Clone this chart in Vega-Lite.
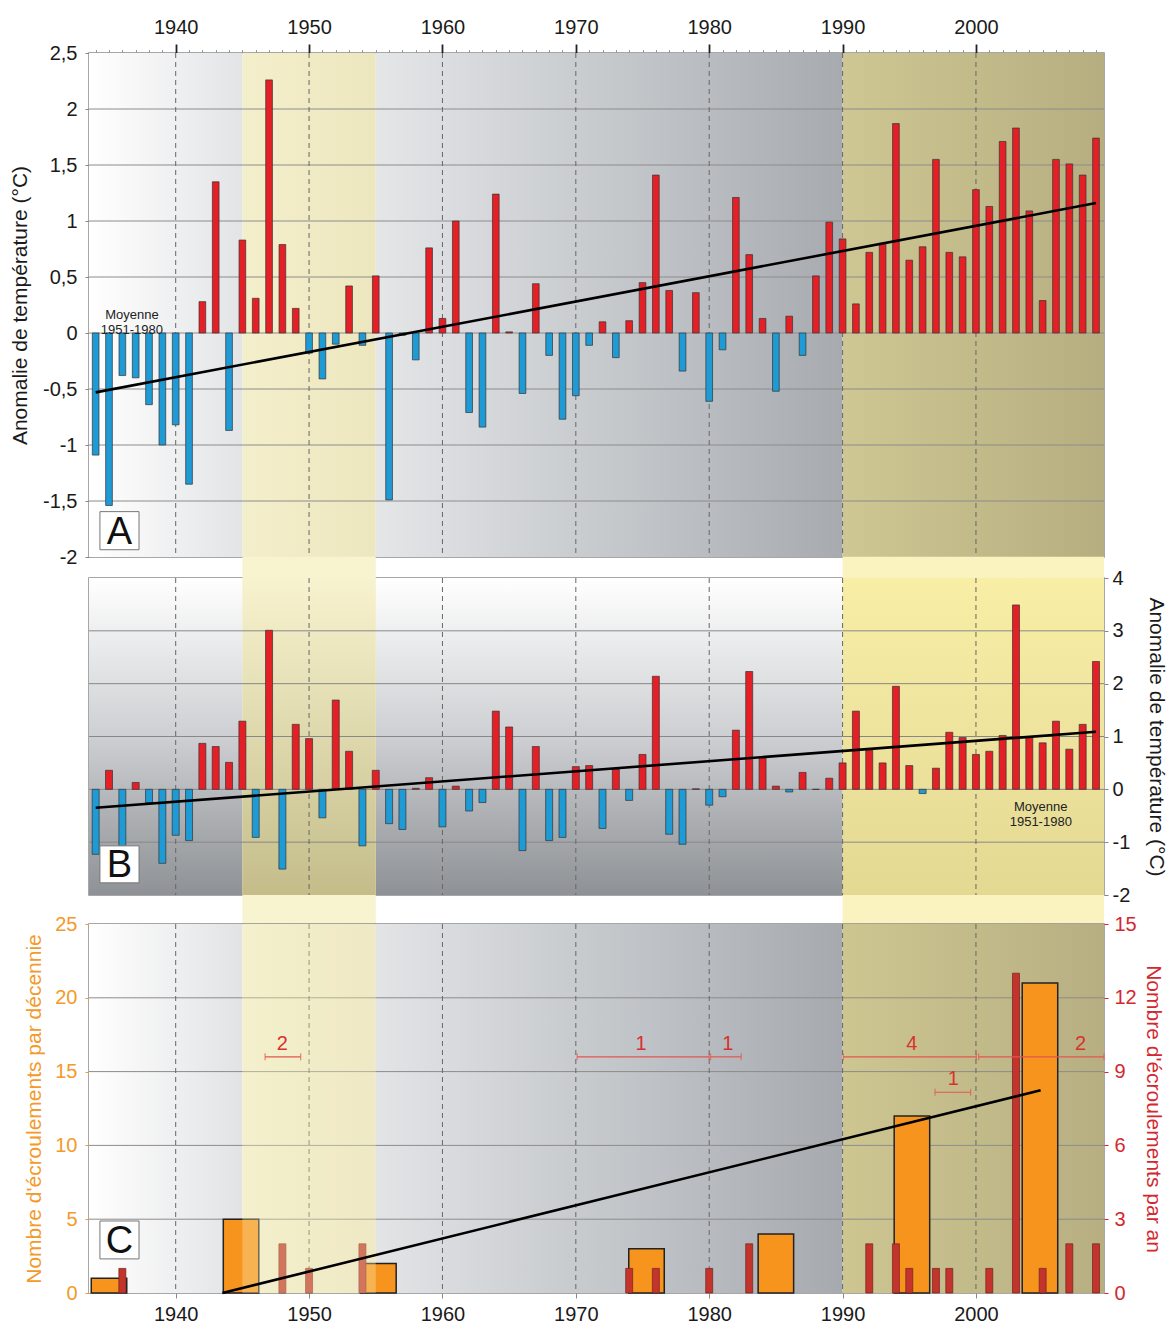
{
  "$schema": "https://vega.github.io/schema/vega-lite/v6.json",
  "background": "white",
  "padding": {"left": 8, "top": 16, "right": 0, "bottom": 0},
  "autosize": {"type": "pad"},
  "config": {
    "font": "Liberation Sans",
    "scale": {"continuousPadding": 0},
    "view": {"stroke": "#8a8a8a", "strokeWidth": 1.5},
    "axis": {"grid": false, "domain": false, "labelFont": "Liberation Sans", "titleFont": "Liberation Sans", "labelFontSize": 20, "titleFontSize": 21, "titleFontWeight": "normal", "labelColor": "#1a1a1a", "titleColor": "#1a1a1a", "tickColor": "#888888", "labelOverlap": false, "labelFlush": false}
  },
  "datasets": {
    "tA": [
      {"year":1934,"v":-1.09},{"year":1935,"v":-1.54},{"year":1936,"v":-0.38},{"year":1937,"v":-0.40},{"year":1938,"v":-0.64},{"year":1939,"v":-1.00},{"year":1940,"v":-0.82},{"year":1941,"v":-1.35},{"year":1942,"v":0.28},{"year":1943,"v":1.35},
      {"year":1944,"v":-0.87},{"year":1945,"v":0.83},{"year":1946,"v":0.31},{"year":1947,"v":2.26},{"year":1948,"v":0.79},{"year":1949,"v":0.22},{"year":1950,"v":-0.18},{"year":1951,"v":-0.41},{"year":1952,"v":-0.10},{"year":1953,"v":0.42},
      {"year":1954,"v":-0.11},{"year":1955,"v":0.51},{"year":1956,"v":-1.49},{"year":1957,"v":-0.02},{"year":1958,"v":-0.24},{"year":1959,"v":0.76},{"year":1960,"v":0.13},{"year":1961,"v":1.00},{"year":1962,"v":-0.71},{"year":1963,"v":-0.84},
      {"year":1964,"v":1.24},{"year":1965,"v":0.01},{"year":1966,"v":-0.54},{"year":1967,"v":0.44},{"year":1968,"v":-0.20},{"year":1969,"v":-0.77},{"year":1970,"v":-0.56},{"year":1971,"v":-0.11},{"year":1972,"v":0.10},{"year":1973,"v":-0.22},
      {"year":1974,"v":0.11},{"year":1975,"v":0.45},{"year":1976,"v":1.41},{"year":1977,"v":0.38},{"year":1978,"v":-0.34},{"year":1979,"v":0.36},{"year":1980,"v":-0.61},{"year":1981,"v":-0.15},{"year":1982,"v":1.21},{"year":1983,"v":0.70},
      {"year":1984,"v":0.13},{"year":1985,"v":-0.52},{"year":1986,"v":0.15},{"year":1987,"v":-0.20},{"year":1988,"v":0.51},{"year":1989,"v":0.99},{"year":1990,"v":0.84},{"year":1991,"v":0.26},{"year":1992,"v":0.72},{"year":1993,"v":0.80},
      {"year":1994,"v":1.87},{"year":1995,"v":0.65},{"year":1996,"v":0.77},{"year":1997,"v":1.55},{"year":1998,"v":0.72},{"year":1999,"v":0.68},{"year":2000,"v":1.28},{"year":2001,"v":1.13},{"year":2002,"v":1.71},{"year":2003,"v":1.83},
      {"year":2004,"v":1.09},{"year":2005,"v":0.29},{"year":2006,"v":1.55},{"year":2007,"v":1.51},{"year":2008,"v":1.41},{"year":2009,"v":1.74}
    ],
    "tB": [
      {"year":1934,"v":-1.23},{"year":1935,"v":0.36},{"year":1936,"v":-1.07},{"year":1937,"v":0.13},{"year":1938,"v":-0.25},{"year":1939,"v":-1.40},{"year":1940,"v":-0.87},{"year":1941,"v":-0.97},{"year":1942,"v":0.87},{"year":1943,"v":0.81},
      {"year":1944,"v":0.51},{"year":1945,"v":1.29},{"year":1946,"v":-0.91},{"year":1947,"v":3.01},{"year":1948,"v":-1.51},{"year":1949,"v":1.23},{"year":1950,"v":0.96},{"year":1951,"v":-0.54},{"year":1952,"v":1.69},{"year":1953,"v":0.72},
      {"year":1954,"v":-1.07},{"year":1955,"v":0.36},{"year":1956,"v":-0.65},{"year":1957,"v":-0.76},{"year":1958,"v":0.02},{"year":1959,"v":0.22},{"year":1960,"v":-0.71},{"year":1961,"v":0.06},{"year":1962,"v":-0.41},{"year":1963,"v":-0.25},
      {"year":1964,"v":1.48},{"year":1965,"v":1.18},{"year":1966,"v":-1.16},{"year":1967,"v":0.81},{"year":1968,"v":-0.97},{"year":1969,"v":-0.91},{"year":1970,"v":0.43},{"year":1971,"v":0.45},{"year":1972,"v":-0.74},{"year":1973,"v":0.38},
      {"year":1974,"v":-0.21},{"year":1975,"v":0.66},{"year":1976,"v":2.14},{"year":1977,"v":-0.85},{"year":1978,"v":-1.04},{"year":1979,"v":0.01},{"year":1980,"v":-0.30},{"year":1981,"v":-0.14},{"year":1982,"v":1.12},{"year":1983,"v":2.23},
      {"year":1984,"v":0.60},{"year":1985,"v":0.06},{"year":1986,"v":-0.05},{"year":1987,"v":0.32},{"year":1988,"v":0.00},{"year":1989,"v":0.21},{"year":1990,"v":0.50},{"year":1991,"v":1.48},{"year":1992,"v":0.74},{"year":1993,"v":0.50},
      {"year":1994,"v":1.95},{"year":1995,"v":0.45},{"year":1996,"v":-0.08},{"year":1997,"v":0.40},{"year":1998,"v":1.08},{"year":1999,"v":0.98},{"year":2000,"v":0.66},{"year":2001,"v":0.72},{"year":2002,"v":1.02},{"year":2003,"v":3.49},
      {"year":2004,"v":0.98},{"year":2005,"v":0.88},{"year":2006,"v":1.29},{"year":2007,"v":0.76},{"year":2008,"v":1.23},{"year":2009,"v":2.42}
    ],
    "dec": [
      {"year":1935.0,"n":1},{"year":1944.9,"n":5},{"year":1955.2,"n":2},{"year":1975.3,"n":3},{"year":1985.0,"n":4},{"year":1995.2,"n":12},{"year":2004.8,"n":21}
    ],
    "ann": [
      {"year":1936,"n":1},{"year":1948,"n":2},{"year":1950,"n":1},{"year":1954,"n":2},{"year":1974,"n":1},{"year":1976,"n":1},{"year":1980,"n":1},{"year":1983,"n":2},{"year":1992,"n":2},
      {"year":1994,"n":2},{"year":1995,"n":1},{"year":1997,"n":1},{"year":1998,"n":1},{"year":2001,"n":1},{"year":2003,"n":13},{"year":2005,"n":1},{"year":2007,"n":2},{"year":2009,"n":2}
    ],
    "trA": [{"year":1934,"v":-0.53},{"year":2009,"v":1.16}],
    "trB": [{"year":1934,"v":-0.35},{"year":2009,"v":1.09}],
    "trC": [{"year":1943.5,"n":0},{"year":2004.85,"n":13.74}],
    "bg": [
      {"seg":"s1","x0":1933.5,"x1":1945},
      {"seg":"s2","x0":1945,"x1":1955},
      {"seg":"s3","x0":1955,"x1":1990},
      {"seg":"s4","x0":1990,"x1":2009.6}
    ],
    "decades": [{"d":1940},{"d":1950},{"d":1960},{"d":1970},{"d":1980},{"d":1990},{"d":2000}],
    "gA": [{"g":-1.5},{"g":-1},{"g":-0.5},{"g":0},{"g":0.5},{"g":1},{"g":1.5},{"g":2}],
    "gB": [{"g":-1},{"g":0},{"g":1},{"g":2},{"g":3}],
    "gC": [{"g":5},{"g":10},{"g":15},{"g":20}],
    "spans": [
      {"x0":1946.7,"x1":1949.37,"y":16,"label":"2","lx":1948.0},
      {"x0":1970.1,"x1":1980.0,"y":16,"label":"1","lx":1974.9},
      {"x0":1980.1,"x1":1982.4,"y":16,"label":"1","lx":1981.4},
      {"x0":1990.06,"x1":2000.03,"y":16,"label":"4","lx":1995.2},
      {"x0":2000.2,"x1":2009.6,"y":16,"label":"2","lx":2007.85},
      {"x0":1996.93,"x1":1999.6,"y":13.6,"label":"1","lx":1998.3}
    ],
    "noteA": [{"year":1936.72,"v":0.16,"t":"Moyenne\n1951-1980"}],
    "noteB": [{"year":2004.86,"v":-0.33,"t":"Moyenne\n1951-1980"}],
    "boxA": [{"x0":1934.32,"x1":1937.25,"y0":-1.935,"y1":-1.595,"xc":1935.78,"yc":-1.765,"t":"A"}],
    "boxB": [{"x0":1934.32,"x1":1937.25,"y0":-1.77,"y1":-1.07,"xc":1935.78,"yc":-1.42,"t":"B"}],
    "boxC": [{"x0":1934.32,"x1":1937.25,"y0":2.31,"y1":4.88,"xc":1935.78,"yc":3.6,"t":"C"}]
  },
  "spacing": 21,
  "bounds": "flush",
  "vconcat": [
    {
      "width": 1015,
      "height": 504,
      "resolve": {"axis": {"x": "independent", "y": "independent"}},
      "layer": [
        {"data":{"name":"bg"},"transform":[{"filter":"datum.seg==='s1'"}],
         "mark":{"type":"rect","fill":{"gradient":"linear","x1":0,"y1":0,"x2":1,"y2":0,"stops":[{"offset":0,"color":"#ffffff"},{"offset":1,"color":"#e3e4e6"}]}},
         "encoding":{"x":{"field":"x0","type":"quantitative","scale":{"domain":[1933.5,2009.6],"nice":false,"zero":false,"padding":0},"axis":null},"x2":{"field":"x1"}}},
        {"data":{"name":"bg"},"transform":[{"filter":"datum.seg==='s2'"}],
         "mark":{"type":"rect","fill":{"gradient":"linear","x1":0,"y1":0,"x2":1,"y2":0,"stops":[{"offset":0,"color":"#f4efcb"},{"offset":1,"color":"#ede7bf"}]}},
         "encoding":{"x":{"field":"x0","type":"quantitative","scale":{"domain":[1933.5,2009.6],"nice":false,"zero":false,"padding":0},"axis":null},"x2":{"field":"x1"}}},
        {"data":{"name":"bg"},"transform":[{"filter":"datum.seg==='s3'"}],
         "mark":{"type":"rect","fill":{"gradient":"linear","x1":0,"y1":0,"x2":1,"y2":0,"stops":[{"offset":0,"color":"#e4e6e8"},{"offset":1,"color":"#a7abb0"}]}},
         "encoding":{"x":{"field":"x0","type":"quantitative","scale":{"domain":[1933.5,2009.6],"nice":false,"zero":false,"padding":0},"axis":null},"x2":{"field":"x1"}}},
        {"data":{"name":"bg"},"transform":[{"filter":"datum.seg==='s4'"}],
         "mark":{"type":"rect","fill":{"gradient":"linear","x1":0,"y1":0,"x2":1,"y2":0,"stops":[{"offset":0,"color":"#cec793"},{"offset":1,"color":"#b6ae80"}]}},
         "encoding":{"x":{"field":"x0","type":"quantitative","scale":{"domain":[1933.5,2009.6],"nice":false,"zero":false,"padding":0},"axis":null},"x2":{"field":"x1"}}},
        {"data":{"name":"gA"},"mark":{"type":"rule","color":"#8c8c8c","strokeWidth":1},
         "encoding":{"y":{"field":"g","type":"quantitative","scale":{"domain":[-2,2.5],"nice":false,"zero":false,"padding":0},"axis":null}}},
        {"data":{"name":"decades"},"mark":{"type":"rule","color":"#666666","strokeDash":[5,4],"strokeWidth":1},
         "encoding":{"x":{"field":"d","type":"quantitative","scale":{"domain":[1933.5,2009.6],"nice":false,"zero":false,"padding":0},"axis":null}}},
        {"data":{"name":"tA"},"mark":{"type":"bar","size":6.7,"stroke":"#333333","strokeWidth":0.7},
         "encoding":{
           "x":{"field":"year","type":"quantitative","scale":{"domain":[1933.5,2009.6],"nice":false,"zero":false,"padding":0},
                "axis":{"orient":"top","title":null,"format":"d","values":[1934,1935,1936,1937,1938,1939,1940,1941,1942,1943,1944,1945,1946,1947,1948,1949,1950,1951,1952,1953,1954,1955,1956,1957,1958,1959,1960,1961,1962,1963,1964,1965,1966,1967,1968,1969,1970,1971,1972,1973,1974,1975,1976,1977,1978,1979,1980,1981,1982,1983,1984,1985,1986,1987,1988,1989,1990,1991,1992,1993,1994,1995,1996,1997,1998,1999,2000,2001,2002,2003,2004,2005,2006,2007,2008,2009],
                        "labelExpr":"datum.value % 10 === 0 ? datum.label : ''",
                        "tickSize":{"condition":{"test":"datum.value % 10 === 0","value":9},"value":3.5},
                        "tickColor":{"condition":{"test":"datum.value % 10 === 0","value":"#222222"},"value":"#999999"},
                        "tickWidth":{"condition":{"test":"datum.value % 10 === 0","value":1.8},"value":1},
                        "labelPadding":7}},
           "y":{"field":"v","type":"quantitative","scale":{"domain":[-2,2.5],"nice":false,"zero":false,"padding":0},
                "axis":{"orient":"left","values":[-2,-1.5,-1,-0.5,0,0.5,1,1.5,2,2.5],"format":"~g","labelExpr":"replace(replace(datum.label, '.', ','), '\u2212', '-')","tickSize":4,"labelPadding":8,"title":"Anomalie de température (°C)","titlePadding":12}},
           "y2":{"datum":0},
           "color":{"condition":{"test":"datum.v >= 0","value":"#e41f26"},"value":"#1e9ad5"}}},
        {"data":{"name":"trA"},"mark":{"type":"line","color":"#000000","strokeWidth":2.6},
         "encoding":{"x":{"field":"year","type":"quantitative","scale":{"domain":[1933.5,2009.6],"nice":false,"zero":false,"padding":0},"axis":null},
                     "y":{"field":"v","type":"quantitative","scale":{"domain":[-2,2.5],"nice":false,"zero":false,"padding":0},"axis":null}}},
        {"data":{"name":"noteA"},"mark":{"type":"text","fontSize":13,"color":"#222222","lineBreak":"\n","lineHeight":15,"align":"center","baseline":"middle"},
         "encoding":{"x":{"field":"year","type":"quantitative","scale":{"domain":[1933.5,2009.6],"nice":false,"zero":false,"padding":0},"axis":null},
                     "y":{"field":"v","type":"quantitative","scale":{"domain":[-2,2.5],"nice":false,"zero":false,"padding":0},"axis":null},
                     "text":{"field":"t"}}},
        {"data":{"name":"boxA"},"mark":{"type":"rect","fill":"#ffffff","stroke":"#777777","strokeWidth":1},
         "encoding":{"x":{"field":"x0","type":"quantitative","scale":{"domain":[1933.5,2009.6],"nice":false,"zero":false,"padding":0},"axis":null},"x2":{"field":"x1"},
                     "y":{"field":"y0","type":"quantitative","scale":{"domain":[-2,2.5],"nice":false,"zero":false,"padding":0},"axis":null},"y2":{"field":"y1"}}},
        {"data":{"name":"boxA"},"mark":{"type":"text","fontSize":38,"color":"#111111","align":"center","baseline":"middle","dy":2},
         "encoding":{"x":{"field":"xc","type":"quantitative","scale":{"domain":[1933.5,2009.6],"nice":false,"zero":false,"padding":0},"axis":null},
                     "y":{"field":"yc","type":"quantitative","scale":{"domain":[-2,2.5],"nice":false,"zero":false,"padding":0},"axis":null},
                     "text":{"field":"t"}}}
      ]
    },
    {
      "spacing": 29,
      "bounds": "flush",
      "vconcat": [
        {
          "width": 1015,
          "height": 317,
          "resolve": {"axis": {"x": "independent", "y": "independent"}},
          "layer": [
            {"data":{"name":"bg"},"transform":[{"filter":"datum.seg==='s2'"}],
             "mark":{"type":"rect","fill":"#f8f4d0"},
             "encoding":{"x":{"field":"x0","type":"quantitative","scale":{"domain":[1933.5,2009.6],"nice":false,"zero":false,"padding":0},"axis":null},"x2":{"field":"x1"},
                         "y":{"datum":-2.55,"type":"quantitative","scale":{"domain":[-2,4],"nice":false,"zero":false,"padding":0},"axis":null},"y2":{"datum":4.4}}},
            {"data":{"name":"bg"},"transform":[{"filter":"datum.seg==='s4'"}],
             "mark":{"type":"rect","fill":"#fbf3bf"},
             "encoding":{"x":{"field":"x0","type":"quantitative","scale":{"domain":[1933.5,2009.6],"nice":false,"zero":false,"padding":0},"axis":null},"x2":{"field":"x1"},
                         "y":{"datum":-2.55,"type":"quantitative","scale":{"domain":[-2,4],"nice":false,"zero":false,"padding":0},"axis":null},"y2":{"datum":4.4}}},
            {"data":{"name":"bg"},"transform":[{"filter":"datum.seg==='s1' || datum.seg==='s3'"}],
             "mark":{"type":"rect","fill":{"gradient":"linear","x1":0,"y1":0,"x2":0,"y2":1,"stops":[{"offset":0,"color":"#ffffff"},{"offset":0.5,"color":"#cdcfd2"},{"offset":1,"color":"#8e9195"}]}},
             "encoding":{"x":{"field":"x0","type":"quantitative","scale":{"domain":[1933.5,2009.6],"nice":false,"zero":false,"padding":0},"axis":null},"x2":{"field":"x1"}}},
            {"data":{"name":"bg"},"transform":[{"filter":"datum.seg==='s2'"}],
             "mark":{"type":"rect","fill":{"gradient":"linear","x1":0,"y1":0,"x2":0,"y2":1,"stops":[{"offset":0,"color":"#f8f3cf"},{"offset":1,"color":"#c4bd8a"}]}},
             "encoding":{"x":{"field":"x0","type":"quantitative","scale":{"domain":[1933.5,2009.6],"nice":false,"zero":false,"padding":0},"axis":null},"x2":{"field":"x1"}}},
            {"data":{"name":"bg"},"transform":[{"filter":"datum.seg==='s4'"}],
             "mark":{"type":"rect","fill":{"gradient":"linear","x1":0,"y1":0,"x2":0,"y2":1,"stops":[{"offset":0,"color":"#f8eea6"},{"offset":1,"color":"#e4d993"}]}},
             "encoding":{"x":{"field":"x0","type":"quantitative","scale":{"domain":[1933.5,2009.6],"nice":false,"zero":false,"padding":0},"axis":null},"x2":{"field":"x1"}}},
            {"data":{"name":"gB"},"mark":{"type":"rule","color":"#888888","strokeWidth":1},
             "encoding":{"y":{"field":"g","type":"quantitative","scale":{"domain":[-2,4],"nice":false,"zero":false,"padding":0},"axis":null}}},
            {"data":{"name":"decades"},"mark":{"type":"rule","color":"#666666","strokeDash":[5,4],"strokeWidth":1},
             "encoding":{"x":{"field":"d","type":"quantitative","scale":{"domain":[1933.5,2009.6],"nice":false,"zero":false,"padding":0},"axis":null}}},
            {"data":{"name":"tB"},"mark":{"type":"bar","size":7,"stroke":"#333333","strokeWidth":0.7},
             "encoding":{
               "x":{"field":"year","type":"quantitative","scale":{"domain":[1933.5,2009.6],"nice":false,"zero":false,"padding":0},"axis":null},
               "y":{"field":"v","type":"quantitative","scale":{"domain":[-2,4],"nice":false,"zero":false,"padding":0},
                    "axis":{"orient":"right","values":[-2,-1,0,1,2,3,4],"format":"d","labelExpr":"replace(datum.label, '\u2212', '-')","tickSize":4,"labelPadding":4,"title":"Anomalie de température (°C)","titlePadding":16}},
               "y2":{"datum":0},
               "color":{"condition":{"test":"datum.v >= 0","value":"#e41f26"},"value":"#1e9ad5"}}},
            {"data":{"name":"trB"},"mark":{"type":"line","color":"#000000","strokeWidth":2.6},
             "encoding":{"x":{"field":"year","type":"quantitative","scale":{"domain":[1933.5,2009.6],"nice":false,"zero":false,"padding":0},"axis":null},
                         "y":{"field":"v","type":"quantitative","scale":{"domain":[-2,4],"nice":false,"zero":false,"padding":0},"axis":null}}},
            {"data":{"name":"noteB"},"mark":{"type":"text","fontSize":13,"color":"#222222","lineBreak":"\n","lineHeight":15,"align":"center","baseline":"middle"},
             "encoding":{"x":{"field":"year","type":"quantitative","scale":{"domain":[1933.5,2009.6],"nice":false,"zero":false,"padding":0},"axis":null},
                         "y":{"field":"v","type":"quantitative","scale":{"domain":[-2,4],"nice":false,"zero":false,"padding":0},"axis":null},
                         "text":{"field":"t"}}},
            {"data":{"name":"boxB"},"mark":{"type":"rect","fill":"#ffffff","stroke":"#777777","strokeWidth":1},
             "encoding":{"x":{"field":"x0","type":"quantitative","scale":{"domain":[1933.5,2009.6],"nice":false,"zero":false,"padding":0},"axis":null},"x2":{"field":"x1"},
                         "y":{"field":"y0","type":"quantitative","scale":{"domain":[-2,4],"nice":false,"zero":false,"padding":0},"axis":null},"y2":{"field":"y1"}}},
            {"data":{"name":"boxB"},"mark":{"type":"text","fontSize":38,"color":"#111111","align":"center","baseline":"middle","dy":2},
             "encoding":{"x":{"field":"xc","type":"quantitative","scale":{"domain":[1933.5,2009.6],"nice":false,"zero":false,"padding":0},"axis":null},
                         "y":{"field":"yc","type":"quantitative","scale":{"domain":[-2,4],"nice":false,"zero":false,"padding":0},"axis":null},
                         "text":{"field":"t"}}}
          ]
        },
        {
          "width": 1015,
          "height": 369,
          "resolve": {"scale": {"y": "independent"}, "axis": {"x": "independent", "y": "independent"}},
          "layer": [
            {
              "resolve": {"axis": {"x": "independent", "y": "independent"}},
              "layer": [
                {"data":{"name":"bg"},"transform":[{"filter":"datum.seg==='s1'"}],
                 "mark":{"type":"rect","fill":{"gradient":"linear","x1":0,"y1":0,"x2":1,"y2":0,"stops":[{"offset":0,"color":"#ffffff"},{"offset":1,"color":"#e2e3e5"}]}},
                 "encoding":{"x":{"field":"x0","type":"quantitative","scale":{"domain":[1933.5,2009.6],"nice":false,"zero":false,"padding":0},"axis":null},"x2":{"field":"x1"}}},
                {"data":{"name":"bg"},"transform":[{"filter":"datum.seg==='s2'"}],
                 "mark":{"type":"rect","fill":{"gradient":"linear","x1":0,"y1":0,"x2":1,"y2":0,"stops":[{"offset":0,"color":"#f4f1d8"},{"offset":1,"color":"#ebe7cc"}]}},
                 "encoding":{"x":{"field":"x0","type":"quantitative","scale":{"domain":[1933.5,2009.6],"nice":false,"zero":false,"padding":0},"axis":null},"x2":{"field":"x1"}}},
                {"data":{"name":"bg"},"transform":[{"filter":"datum.seg==='s3'"}],
                 "mark":{"type":"rect","fill":{"gradient":"linear","x1":0,"y1":0,"x2":1,"y2":0,"stops":[{"offset":0,"color":"#e2e4e6"},{"offset":1,"color":"#a6aaaf"}]}},
                 "encoding":{"x":{"field":"x0","type":"quantitative","scale":{"domain":[1933.5,2009.6],"nice":false,"zero":false,"padding":0},"axis":null},"x2":{"field":"x1"}}},
                {"data":{"name":"bg"},"transform":[{"filter":"datum.seg==='s4'"}],
                 "mark":{"type":"rect","fill":{"gradient":"linear","x1":0,"y1":0,"x2":1,"y2":0,"stops":[{"offset":0,"color":"#cdc691"},{"offset":1,"color":"#b7af82"}]}},
                 "encoding":{"x":{"field":"x0","type":"quantitative","scale":{"domain":[1933.5,2009.6],"nice":false,"zero":false,"padding":0},"axis":null},"x2":{"field":"x1"}}},
                {"data":{"name":"gC"},"mark":{"type":"rule","color":"#8c8c8c","strokeWidth":1},
                 "encoding":{"y":{"field":"g","type":"quantitative","scale":{"domain":[0,25],"nice":false,"zero":false,"padding":0},"axis":null}}},
                {"data":{"name":"decades"},"mark":{"type":"rule","color":"#666666","strokeDash":[5,4],"strokeWidth":1},
                 "encoding":{"x":{"field":"d","type":"quantitative","scale":{"domain":[1933.5,2009.6],"nice":false,"zero":false,"padding":0},"axis":null}}},
                {"data":{"name":"dec"},"mark":{"type":"bar","size":35.5,"color":"#f7941d","stroke":"#222222","strokeWidth":1.5},
                 "encoding":{
                   "x":{"field":"year","type":"quantitative","scale":{"domain":[1933.5,2009.6],"nice":false,"zero":false,"padding":0},
                        "axis":{"orient":"bottom","title":null,"format":"d","values":[1940,1950,1960,1970,1980,1990,2000],"tickSize":5,"labelPadding":6}},
                   "y":{"field":"n","type":"quantitative","scale":{"domain":[0,25],"nice":false,"zero":false,"padding":0},
                        "axis":{"orient":"left","values":[0,5,10,15,20,25],"tickSize":4,"labelPadding":8,"labelColor":"#f39a2b","titleColor":"#f39a2b","tickColor":"#f39a2b","title":"Nombre d'écroulements par décennie","titlePadding":10}},
                   "y2":{"datum":0}}}
              ]
            },
            {"data":{"name":"ann"},"mark":{"type":"bar","size":7,"color":"#c4342c","stroke":"#6e2420","strokeWidth":0.7},
             "encoding":{
               "x":{"field":"year","type":"quantitative","scale":{"domain":[1933.5,2009.6],"nice":false,"zero":false,"padding":0},"axis":null},
               "y":{"field":"n","type":"quantitative","scale":{"domain":[0,15],"nice":false,"zero":false,"padding":0},
                    "axis":{"orient":"right","values":[0,3,6,9,12,15],"tickSize":4,"labelPadding":6,"labelColor":"#d3282e","titleColor":"#d3282e","tickColor":"#d3282e","title":"Nombre d'écroulements par an","titlePadding":6}},
               "y2":{"datum":0}}},
            {
              "resolve": {"axis": {"x": "independent", "y": "independent"}},
              "layer": [
                {"data":{"name":"bg"},"transform":[{"filter":"datum.seg==='s2'"}],
                 "mark":{"type":"rect","fill":"#f6efb6","opacity":0.35},
                 "encoding":{"x":{"field":"x0","type":"quantitative","scale":{"domain":[1933.5,2009.6],"nice":false,"zero":false,"padding":0},"axis":null},"x2":{"field":"x1"}}},
                {"data":{"name":"trC"},"mark":{"type":"line","color":"#000000","strokeWidth":2.6},
                 "encoding":{"x":{"field":"year","type":"quantitative","scale":{"domain":[1933.5,2009.6],"nice":false,"zero":false,"padding":0},"axis":null},
                             "y":{"field":"n","type":"quantitative","scale":{"domain":[0,25],"nice":false,"zero":false,"padding":0},"axis":null}}},
                {"data":{"name":"spans"},"mark":{"type":"rule","color":"#e2574f","strokeWidth":1.2},
                 "encoding":{"x":{"field":"x0","type":"quantitative","scale":{"domain":[1933.5,2009.6],"nice":false,"zero":false,"padding":0},"axis":null},"x2":{"field":"x1"},
                             "y":{"field":"y","type":"quantitative","scale":{"domain":[0,25],"nice":false,"zero":false,"padding":0},"axis":null}}},
                {"data":{"name":"spans"},"mark":{"type":"tick","orient":"vertical","size":7,"thickness":1.2,"color":"#e2574f"},
                 "encoding":{"x":{"field":"x0","type":"quantitative","scale":{"domain":[1933.5,2009.6],"nice":false,"zero":false,"padding":0},"axis":null},
                             "y":{"field":"y","type":"quantitative","scale":{"domain":[0,25],"nice":false,"zero":false,"padding":0},"axis":null}}},
                {"data":{"name":"spans"},"mark":{"type":"tick","orient":"vertical","size":7,"thickness":1.2,"color":"#e2574f"},
                 "encoding":{"x":{"field":"x1","type":"quantitative","scale":{"domain":[1933.5,2009.6],"nice":false,"zero":false,"padding":0},"axis":null},
                             "y":{"field":"y","type":"quantitative","scale":{"domain":[0,25],"nice":false,"zero":false,"padding":0},"axis":null}}},
                {"data":{"name":"spans"},"mark":{"type":"text","fontSize":20,"color":"#d8322e","align":"center","baseline":"bottom","dy":-3},
                 "encoding":{"x":{"field":"lx","type":"quantitative","scale":{"domain":[1933.5,2009.6],"nice":false,"zero":false,"padding":0},"axis":null},
                             "y":{"field":"y","type":"quantitative","scale":{"domain":[0,25],"nice":false,"zero":false,"padding":0},"axis":null},
                             "text":{"field":"label"}}},
                {"data":{"name":"boxC"},"mark":{"type":"rect","fill":"#ffffff","stroke":"#777777","strokeWidth":1},
                 "encoding":{"x":{"field":"x0","type":"quantitative","scale":{"domain":[1933.5,2009.6],"nice":false,"zero":false,"padding":0},"axis":null},"x2":{"field":"x1"},
                             "y":{"field":"y0","type":"quantitative","scale":{"domain":[0,25],"nice":false,"zero":false,"padding":0},"axis":null},"y2":{"field":"y1"}}},
                {"data":{"name":"boxC"},"mark":{"type":"text","fontSize":38,"color":"#111111","align":"center","baseline":"middle","dy":2},
                 "encoding":{"x":{"field":"xc","type":"quantitative","scale":{"domain":[1933.5,2009.6],"nice":false,"zero":false,"padding":0},"axis":null},
                             "y":{"field":"yc","type":"quantitative","scale":{"domain":[0,25],"nice":false,"zero":false,"padding":0},"axis":null},
                             "text":{"field":"t"}}}
              ]
            }
          ]
        }
      ]
    }
  ]
}
